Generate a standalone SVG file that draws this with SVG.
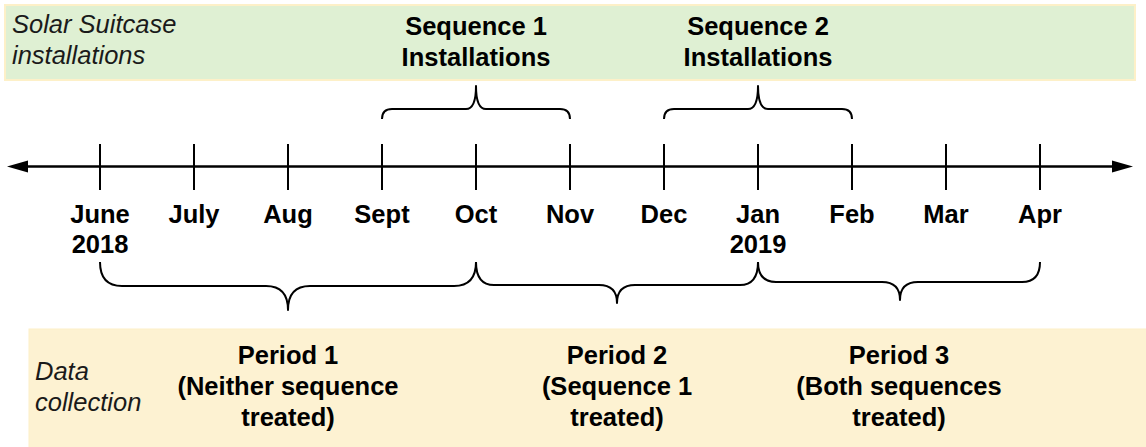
<svg xmlns="http://www.w3.org/2000/svg" width="1146" height="447" viewBox="0 0 1146 447">
<style>
.band-top{fill:#dff0d3;stroke:#fdf0c8;stroke-width:2}
.band-bot{fill:#fdf2d2;stroke:#fdf0c8;stroke-width:1}
.lbl{font-family:"Liberation Sans",Arial,sans-serif;font-size:25.5px;font-weight:bold;fill:#000;text-anchor:middle}
.it{font-family:"Liberation Sans",Arial,sans-serif;font-size:25.5px;font-style:italic;fill:#1a1a1a}
.ln{stroke:#000;stroke-width:2.5;fill:none}
.tick{stroke:#000;stroke-width:2;fill:none}
.brace{stroke:#000;stroke-width:2;fill:none;stroke-linejoin:round}
</style>
<g id="band-installations">
<rect class="band-top" x="5" y="5" width="1130" height="75"/>
<text class="it" x="12" y="33">Solar Suitcase</text>
<text class="it" x="12" y="64">installations</text>
</g>
<g id="band-data">
<rect class="band-bot" x="29" y="329" width="1120" height="130"/>
<text class="it" x="35" y="380">Data</text>
<text class="it" x="35" y="411">collection</text>
</g>
<g id="seq1">
<text class="lbl" x="476" y="35">Sequence 1</text>
<text class="lbl" x="476" y="66">Installations</text>
</g>
<g id="seq2">
<text class="lbl" x="758" y="35">Sequence 2</text>
<text class="lbl" x="758" y="66">Installations</text>
</g>
<g id="timeline">
<line class="ln" x1="26" y1="166.5" x2="1114" y2="166.5"/>
<polygon points="7,166.5 28,160.5 28,172.5" fill="#000"/>
<polygon points="1133,166.5 1112,160.5 1112,172.5" fill="#000"/>
<g class="tick">
<line x1="100" y1="144" x2="100" y2="190"/>
<line x1="194" y1="144" x2="194" y2="190"/>
<line x1="288" y1="144" x2="288" y2="190"/>
<line x1="382" y1="144" x2="382" y2="190"/>
<line x1="476" y1="144" x2="476" y2="190"/>
<line x1="570" y1="144" x2="570" y2="190"/>
<line x1="664" y1="144" x2="664" y2="190"/>
<line x1="758" y1="144" x2="758" y2="190"/>
<line x1="852" y1="144" x2="852" y2="190"/>
<line x1="946" y1="144" x2="946" y2="190"/>
<line x1="1040" y1="144" x2="1040" y2="190"/>
</g>
</g>
<g id="months">
<text class="lbl" x="100" y="223">June</text>
<text class="lbl" x="100" y="253">2018</text>
<text class="lbl" x="194" y="223">July</text>
<text class="lbl" x="288" y="223">Aug</text>
<text class="lbl" x="382" y="223">Sept</text>
<text class="lbl" x="476" y="223">Oct</text>
<text class="lbl" x="570" y="223">Nov</text>
<text class="lbl" x="664" y="223">Dec</text>
<text class="lbl" x="758" y="223">Jan</text>
<text class="lbl" x="758" y="253">2019</text>
<text class="lbl" x="852" y="223">Feb</text>
<text class="lbl" x="946" y="223">Mar</text>
<text class="lbl" x="1040" y="223">Apr</text>
</g>
<g id="connectors">
<path class="brace" d="M382,119 Q382,109 392,109 H466 Q476,109 476,86 Q476,109 486,109 H560 Q570,109 570,119"/>
<path class="brace" d="M664,119 Q664,109 674,109 H748 Q758,109 758,86 Q758,109 768,109 H842 Q852,109 852,119"/>
<path class="brace" d="M100,262 Q100,286 122,286 H266 Q288,286 288,310 Q288,286 310,286 H454 Q476,286 476,262"/>
<path class="brace" d="M476,262 Q476,285 494,285 H599 Q617,285 617,303 Q617,285 635,285 H740 Q758,285 758,262"/>
<path class="brace" d="M758,262 Q758,282 776,282 H882 Q900,282 900,300 Q900,282 918,282 H1022 Q1040,282 1040,262"/>
</g>
<g id="period1">
<text class="lbl" x="288" y="364">Period 1</text>
<text class="lbl" x="288" y="395">(Neither sequence</text>
<text class="lbl" x="288" y="426">treated)</text>
</g>
<g id="period2">
<text class="lbl" x="617" y="364">Period 2</text>
<text class="lbl" x="617" y="395">(Sequence 1</text>
<text class="lbl" x="617" y="426">treated)</text>
</g>
<g id="period3">
<text class="lbl" x="899" y="364">Period 3</text>
<text class="lbl" x="899" y="395">(Both sequences</text>
<text class="lbl" x="899" y="426">treated)</text>
</g>
</svg>
